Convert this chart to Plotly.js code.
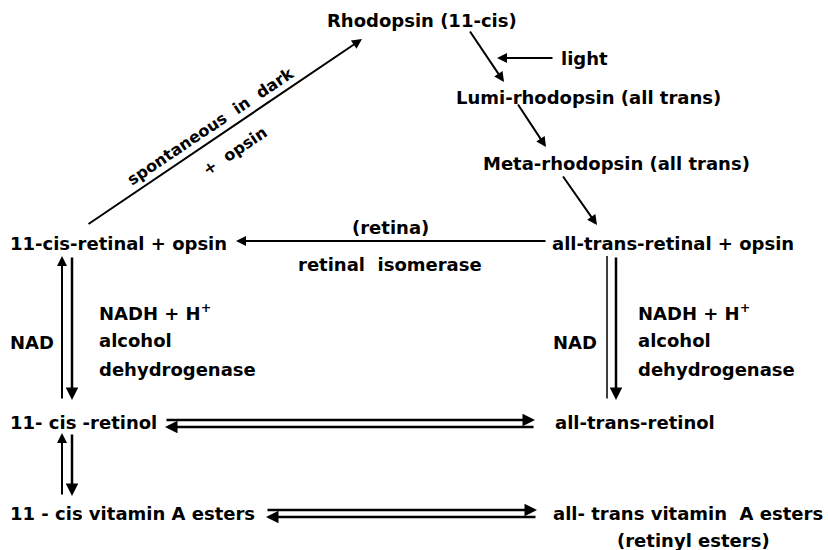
<!DOCTYPE html>
<html><head><meta charset="utf-8">
<script src="https://cdn.plot.ly/plotly-3.0.1.min.js"></script>
<style>html,body{margin:0;padding:0;background:#fff;}#chart{width:828px;height:550px;}</style>
</head><body><div id="chart"></div>
<script>
// Diagram labels (text content)
const labels = [
  "Rhodopsin (11-cis)",
  "light",
  "Lumi-rhodopsin (all trans)",
  "Meta-rhodopsin (all trans)",
  "11-cis-retinal + opsin",
  "all-trans-retinal + opsin",
  "(retina)",
  "retinal  isomerase",
  "NAD",
  "NADH + H<sup>+</sup>",
  "alcohol",
  "dehydrogenase",
  "NAD",
  "NADH + H<sup>+</sup>",
  "alcohol",
  "dehydrogenase",
  "11- cis -retinol",
  "all-trans-retinol",
  "11 - cis vitamin A esters",
  "all- trans vitamin  A esters",
  "(retinyl esters)"
];
// label anchor positions (pixel grid of the diagram)
const labelX = [422, 559, 588, 616, 8, 550, 390, 390, 8, 97, 97, 97, 551, 636, 636, 636, 8, 553, 8, 551, 693];
const labelY = [20, 58, 97, 163, 243, 243, 227, 264, 342, 312, 340, 369, 342, 312, 340, 369, 422, 422, 513, 513, 540];
const labelAnchor = ["center","left","center","center","left","left","center","center","left","left","left","left","left","left","left","left","left","left","left","left","center"];

// Rotated labels along the dark-regeneration arrow
const rotLabels = ["spontaneous  in  dark", "+  opsin"];
const rotX = [210, 234];
const rotY = [126, 151];

// Arrows: tail (from) -> head (to)
const arrowFromX = [87, 469, 554, 517, 562, 547, 62, 72, 607, 616, 535, 165, 62, 72, 537, 266];
const arrowFromY = [225, 30, 58, 103, 175, 241, 400, 256, 400, 256, 427, 420, 496, 433, 517, 510];
const arrowToX   = [362, 504, 497, 546, 597, 236, 62, 72, 607, 616, 165, 535, 62, 72, 266, 537];
const arrowToY   = [39, 82, 58, 147, 225, 241, 256, 400, 256, 400, 427, 420, 433, 496, 517, 510];
const arrowHead  = [true, true, true, true, true, true, true, true, false, true, true, true, true, true, true, true];
const arrowW     = [2, 2, 2, 2, 2, 2, 2, 2.5, 1.5, 2.5, 2.5, 2.5, 2, 2.5, 2.5, 2.5];

const annotations = [];
const fontBase = {family: "DejaVu Sans, sans-serif", size: 18, color: "#000"};
const fontRot = {family: "DejaVu Sans, sans-serif", size: 16, color: "#000"};
labels.forEach((t, i) => {
  annotations.push({
    x: labelX[i], y: labelY[i], xref: "x", yref: "y",
    text: "<b>" + t + "</b>", showarrow: false,
    xanchor: labelAnchor[i], yanchor: "middle", font: fontBase
  });
});
rotLabels.forEach((t, i) => {
  annotations.push({
    x: rotX[i], y: rotY[i], xref: "x", yref: "y",
    text: "<b>" + t + "</b>", showarrow: false, textangle: -34,
    xanchor: "center", yanchor: "middle", font: fontRot
  });
});
arrowFromX.forEach((fx, i) => {
  annotations.push({
    x: arrowToX[i], y: arrowToY[i], xref: "x", yref: "y",
    ax: fx, ay: arrowFromY[i], axref: "x", ayref: "y",
    text: "", showarrow: true,
    arrowhead: arrowHead[i] ? 2 : 0, arrowsize: 1, arrowwidth: arrowW[i],
    arrowcolor: "#000", standoff: 0, startstandoff: 0
  });
});

const layout = {
  width: 828, height: 550,
  margin: {l: 0, r: 0, t: 0, b: 0},
  paper_bgcolor: "#fff", plot_bgcolor: "#fff",
  xaxis: {range: [0, 828], visible: false, fixedrange: true},
  yaxis: {range: [550, 0], visible: false, fixedrange: true},
  showlegend: false,
  annotations: annotations
};
Plotly.newPlot("chart", [{x: [], y: [], type: "scatter", mode: "markers"}], layout, {staticPlot: true, displayModeBar: false});
</script>
</body></html>
